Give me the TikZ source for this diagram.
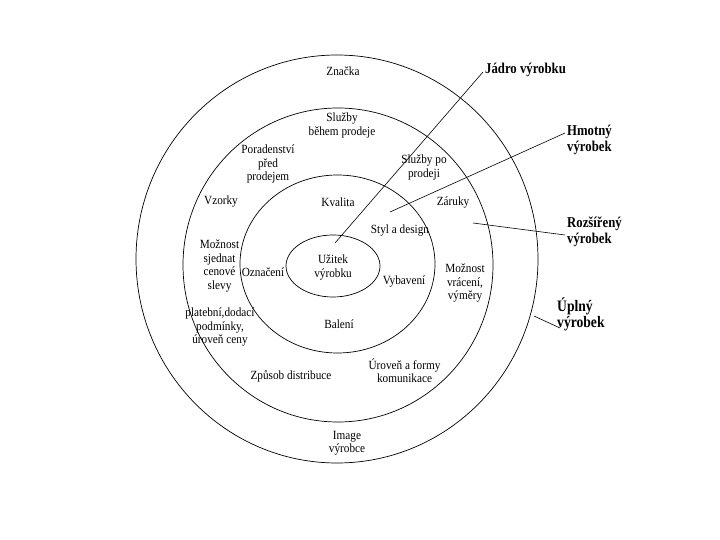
\documentclass[tikz,border=0pt]{standalone}
\usepackage{fontspec}
\setmainfont{Liberation Serif}
\newfontfamily\lblfont[FakeStretch=0.9]{Liberation Serif}
\newfontfamily\sidefont[FakeStretch=0.85]{Liberation Serif}
\begin{document}
\begin{tikzpicture}[x=1pt,y=-1pt,
  lbl/.style={font=\lblfont\fontsize{12.5}{13.5}\selectfont, align=center, inner sep=0pt},
  side/.style={font=\sidefont\bfseries\fontsize{15}{16}\selectfont, align=left, inner sep=0pt, anchor=west},
  bigside/.style={font=\sidefont\bfseries\fontsize{16}{16}\selectfont, align=left, inner sep=0pt, anchor=west},
  ring/.style={draw, line width=0.7pt},
  conn/.style={draw, line width=0.6pt}]
\useasboundingbox[fill=white] (0,0) rectangle (720,540);

% rings
\draw[ring] (337,259) ellipse [x radius=201, y radius=204];
\draw[ring] (338,265) ellipse [x radius=155, y radius=157];
\draw[ring] (337.5,264) ellipse [x radius=97.5, y radius=89];
\draw[ring] (333,266) ellipse [x radius=47, y radius=31];

% labels inside
\node[lbl] (znacka) at (343,71) {Značka};
\node[lbl] (sluzby) at (342,125.5) {Služby\\během prodeje};
\node[lbl] (porad) at (268,164) {Poradenství\\před\\prodejem};
\node[lbl] (sluzbypo) at (424,167.5) {Služby po\\prodeji};
\node[lbl] (vzorky) at (221,202) {Vzorky};
\node[lbl] (kvalita) at (338,202) {Kvalita};
\node[lbl] (zaruky) at (453,203) {Záruky};
\node[lbl] (styl) at (400,231) {Styl a design};
\node[lbl] (moznost) at (219.5,266) {Možnost\\sjednat\\cenové\\slevy};
\node[lbl] (oznaceni) at (263,272) {Označení};
\node[lbl] (uzitek) at (333,267.5) {Užitek\\výrobku};
\node[lbl] (vybaveni) at (404,282) {Vybavení};
\node[lbl] (moznost2) at (465,283) {Možnost\\vrácení,\\výměry};
\node[lbl] (platebni) at (220,327.5) {platební,dodací\\podmínky,\\úroveň ceny};
\node[lbl] (baleni) at (339,324) {Balení};
\node[lbl] (uroven) at (404.5,370.5) {Úroveň a formy\\komunikace};
\node[lbl] (zpusob) at (291,376) {Způsob distribuce};
\node[lbl] (image) at (347,443.5) {Image\\výrobce};

% side labels
\node[side] (jadro) at (485,70) {Jádro výrobku};
\node[side] (hmotny) at (567,140) {Hmotný\\výrobek};
\node[side] (rozsireny) at (567,232) {Rozšířený\\výrobek};
\node[bigside] (uplny) at (557,314) {Úplný\\výrobek};

% free ends
\coordinate (cJ) at (335,243);
\coordinate (cH) at (390,212);
\coordinate (cR) at (473,223);
\coordinate (cU) at (534,316);

\draw[conn] (cJ) -- ([xshift=-2pt,yshift=-2pt]jadro.west);
\draw[conn] (cH) -- ([xshift=-2pt,yshift=7pt]hmotny.west);
\draw[conn] (cR) -- ([xshift=-2pt,yshift=-3pt]rozsireny.west);
\draw[conn] (cU) -- ([xshift=3pt,yshift=-14pt]uplny.west);
\end{tikzpicture}
\end{document}
